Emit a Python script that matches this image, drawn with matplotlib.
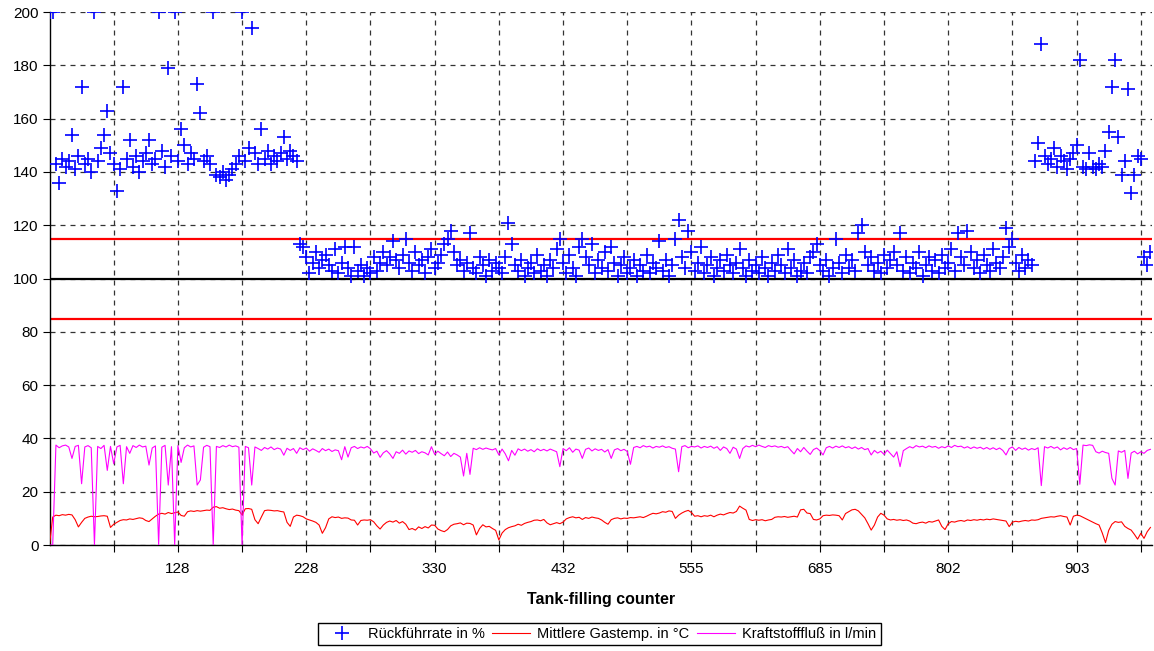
import matplotlib
matplotlib.use("Agg")
import matplotlib.pyplot as plt
import numpy as np

plt.rcParams['font.family'] = ['Liberation Sans', 'DejaVu Sans']

# Rückführrate in % (one value per tank filling)
rueckfuehrrate = [
    200, 200, 143, 136, 145, 142, 144, 154, 141, 146,
    172, 143, 145, 140, 200, 144, 149, 154, 163, 147,
    143, 133, 141, 172, 145, 152, 142, 146, 140, 144,
    147, 152, 143, 145, 200, 148, 142, 179, 146, 200,
    144, 156, 150, 143, 147, 145, 173, 162, 144, 146,
    143, 200, 139, 138, 140, 137, 139, 141, 143, 146,
    200, 144, 149, 194, 147, 143, 156, 145, 148, 143,
    146, 144, 147, 153, 145, 148, 146, 144, 113, 112,
    108, 102, 106, 110, 104, 107, 109, 105, 103, 111,
    102, 106, 112, 104, 101, 112, 103, 105, 101, 104,
    102, 108, 103, 106, 110, 105, 108, 114, 107, 104,
    109, 115, 106, 103, 110, 105, 107, 102, 108, 111,
    104, 106, 109, 113, 115, 118, 110, 105, 107, 103,
    106, 117, 104, 102, 108, 105, 101, 107, 103, 106,
    104, 102, 108, 121, 113, 105, 103, 107, 101, 104,
    106, 102, 109, 103, 105, 101, 107, 104, 111, 115,
    106, 102, 109, 104, 101, 112, 115, 108, 105, 113,
    102, 107, 104, 110, 103, 112, 106, 101, 105, 108,
    102, 104, 107, 101, 105, 103, 109, 102, 106, 104,
    114, 103, 107, 101, 105, 115, 122, 108, 104, 118,
    110, 103, 106, 112, 102, 105, 108, 101, 104, 107,
    103, 109, 105, 102, 106, 111, 104, 101, 107, 103,
    105, 102, 108, 104, 101, 106, 103, 109, 105, 102,
    111, 104, 107, 101, 103, 106, 102, 108, 110, 113,
    105, 103, 107, 101, 104, 115, 106, 102, 109, 104,
    107, 103, 117, 120, 110, 105, 108, 103, 106, 102,
    109, 104, 107, 110, 105, 117, 103, 108, 102, 106,
    104, 110, 101, 105, 108, 103, 107, 102, 109, 104,
    106, 111, 103, 117, 108, 105, 118, 110, 104, 107,
    102, 109, 105, 103, 111, 106, 104, 108, 119, 112,
    115, 106, 103, 109, 104, 107, 105, 144, 151, 188,
    146, 143, 145, 149, 142, 146, 144, 141, 145, 147,
    150, 182, 142, 141, 147, 142, 141, 143, 142, 148,
    155, 172, 182, 153, 139, 144, 171, 132, 139, 146,
    145, 108, 105, 110,
]

# Mittlere Gastemp. in °C
gastemp = [
    0, 10.5, 11.2, 11, 11.4, 11.2, 11.5, 11.3, 9.5, 6.8,
    8.5, 10, 10.5, 10.8, 10.6, 10.7, 10.9, 11, 10.8, 6.6,
    7.8, 8.5, 9.2, 9.5, 9.4, 9.8, 9.6, 9.9, 10.2, 10,
    9.2, 8.8, 9.8, 10.8, 11.6, 11.9, 11.6, 12.2, 11.8, 12.1,
    12.4, 11.1, 10.8, 12.5, 12.8, 12.6, 12.9, 12.7, 12.9, 13.1,
    13, 14.2, 14.4, 13.8, 14, 13.6, 13.3, 13.5, 13.1, 12.9,
    11.3, 13.6, 13.7, 13.4, 9.5, 8, 10.5, 12.9, 13.1, 13,
    12.8, 12.9, 12.6, 12.4, 8.5, 7, 10.5, 11.2, 11, 10.6,
    9.8, 9.4, 9, 8.5, 7.5, 4.4, 6.5, 9.8, 10.6, 10.3,
    10.5, 10, 10.2, 10.1, 9.4, 9.3, 7.5, 9.2, 9.4, 9.3,
    9.5, 8.7, 7.2, 6, 7.5, 8.5, 9, 8.6, 9.2, 8.2,
    8.8, 7.8, 5.8, 6.2, 5.6, 6.8, 6.2, 6.9, 6.4, 7.5,
    7.4, 6, 5.4, 5, 5.8, 7.2, 7.8, 8, 8.3, 7.6,
    8.2, 8.1, 7.5, 3.8, 6.2, 7.6, 6.8, 7, 6.2, 5.5,
    1.9, 4.5, 5.8, 6.5, 6.9, 7.2, 7.8, 7.4, 8.1, 8.5,
    8.8, 9.3, 9.4, 9.1, 9.6, 8.3, 7.6, 8, 8.4, 8,
    8.6, 9.8, 10.3, 10.6, 10.2, 10.4, 9.6, 10.3, 10, 10.5,
    10.2, 10, 9.4, 8.5, 7.8, 9.5, 10, 10.2, 9.8, 10.1,
    10, 10.3, 10.2, 10.4, 10.6, 10.3, 10.8, 11.4, 11.9, 11.7,
    12, 12.5, 12.3, 12.8, 12.6, 10, 11.2, 12, 12.6, 13,
    12.2, 10.8, 11, 10.6, 11, 10.8, 11.2, 10.6, 11.2, 11.6,
    11.3, 11.8, 12.2, 12, 12.6, 14.6, 13.8, 13.1, 9.6, 9.2,
    9.5, 9.3, 9.5, 9.1, 9.4, 9.6, 10.4, 10.6, 10.5, 10.7,
    10.4, 10.6, 10.8, 10.5, 13.2, 13.4, 12, 11.8, 9.6, 9.4,
    9.8, 11, 11.2, 11.1, 11.3, 11.2, 11, 9.4, 11.8, 12.5,
    13.2, 13.4, 12.8, 11.5, 10.2, 8, 5.6, 7.5, 10.5, 11.9,
    11.2, 9.8, 9.4, 9.6, 9.3, 9.5, 9.2, 9.4, 9, 8.2,
    8, 8.4, 8.6, 8.2, 8.8, 8.6, 9, 9.4, 7, 5.8,
    8, 8.8, 8.6, 9, 9.2, 8.9, 9.4, 9.2, 9.5, 9.3,
    9.6, 9.4, 9.7, 9.5, 9.8, 9.6, 9.4, 9.2, 9, 6.9,
    8.6, 8.9, 8.7, 9, 9.2, 9, 9.4, 9.3, 9.5, 10,
    10.2, 10.4, 10.6, 10.5, 10.8, 11, 10.7, 10.5, 7.5, 10.8,
    11.2, 11, 10.4, 9.8, 9.2, 8.6, 8, 7.5, 4.5, 0.9,
    5.5, 7.8, 8.8, 8.5, 8.7, 7, 6.2, 5.6, 4, 2.2,
    4.4, 2.5, 5, 6.6,
]

# Kraftstofffluß in l/min
kraftstofffluss = [
    0, 0, 37.5, 36.5, 37.2, 37.5, 36.8, 32.5, 37, 37.4,
    23, 36.8, 37.3, 36.5, 0, 37, 36.2, 37.4, 28, 37,
    30.5, 36.8, 37.4, 23, 36.9, 34.4, 37.3, 36.6, 37.5, 36.8,
    37.1, 30, 36.4, 37.2, 0, 36.7, 37.4, 22.5, 36.9, 0,
    37.3, 31, 36.5, 37.5, 36.8, 37.2, 22.5, 24.4, 36.7, 37.4,
    36.9, 0, 37, 36.6, 37.3, 36.8, 37.5, 36.9, 37.2, 36.7,
    0, 37, 36.5, 22.5, 36.8, 36.2, 35.5, 36.6, 36, 36.8,
    35.8, 36.4, 36, 33.7, 36.3, 35.5, 36.2, 34.4, 36.5, 35.8,
    36.4, 35.2, 36.1, 35.5, 34.8, 36.2, 35.4, 36, 35.1, 35.7,
    35.4, 32, 36.9, 33, 36.5, 37, 36.2, 36.8, 36.4, 37,
    36.1, 34.5, 35.2, 32.9, 34.6, 35.4, 34.2, 32.5, 35, 34.4,
    35.6, 34.1, 35.3, 34.8, 35.5, 34.3, 35, 34.6, 33.8, 36.9,
    34, 35.2, 34.3, 33.5, 34.9, 33.2, 34.4, 33.8, 33, 25.9,
    34.4, 26.5, 36.3, 35.8, 36.5, 35.9, 36.4, 36, 35.7, 36.2,
    33.8, 36, 34.2, 31.6, 35.5, 33.7, 36.1, 35.4, 36, 35.2,
    35.8, 35, 36.1, 35.4, 35.9, 35.3, 36, 35.5, 35, 29.4,
    36.2, 35.4, 36.5, 34.8, 36, 35.6, 32.5, 35.9, 36.4, 35.3,
    36.1, 35.5, 35.9, 34.9, 35.8, 32.5, 35.7, 36.2, 35.4, 35.9,
    35.1, 30.3, 36.6, 37, 36.5, 37.3, 36.8, 37.1, 36.4, 37,
    36.7, 37.2, 36.6, 36.9, 36.3, 36, 27.5, 36.9, 37.3, 36.5,
    37, 36.8, 37.2, 36.4, 37, 36.6, 37.1, 36.3, 36.9, 35.5,
    36.8, 36.2, 34.4, 36.7, 36, 32.5, 36.2, 37.2, 36.8, 37.4,
    36.9, 37.5, 37, 36.6, 37.3, 36.9, 37.2, 36.7, 37, 36.5,
    36.9, 35.5, 34.2, 36.2, 35, 36.6, 35.2, 34, 35.8, 36.4,
    35.4, 33.8, 36.5, 37, 36.4, 37.1, 36.6, 37.2, 36.5, 36.9,
    36.2, 36.8, 36, 36.6, 35.8, 36.2, 33.8, 35.5, 34.5, 35.2,
    34, 35.6, 34.3, 33, 35, 29.4, 35.4, 36.2, 36.9, 36.4,
    37.3, 36.8, 37.1, 36.5, 37.2, 36.7, 37, 36.3, 36.9, 36.5,
    37.2, 36.6, 37.4, 36.9, 37.1, 36.4, 36.9, 36.2, 36.8, 36.3,
    36.7, 36, 36.6, 35.9, 36.5, 35.8, 36.4, 35.5, 33.8, 36.2,
    36.8, 35.5, 36.6, 35.9, 36.4, 35.6, 36.2, 35.8, 36.5, 22.3,
    36.9, 36.4, 37, 36.3, 36.8, 35.7, 36.5, 35.9, 36.6, 35.8,
    36.2, 22.8, 37.5, 37.3, 37.6, 37.4, 35, 34.5, 35.2, 34.7,
    34.4, 25, 22.5, 35.3, 34.8, 35.5, 25, 34.5, 35.2, 34.2,
    35, 34.4, 35.5, 35.9,
]

tick_labels = ["128", "228", "330", "432", "555", "685", "802", "903"]
soll, grenze_oben, grenze_unten = 100, 115, 85

x = np.arange(len(rueckfuehrrate))

fig = plt.figure(figsize=(11.54, 6.51), dpi=100)
ax = fig.add_axes([0.0429, 0.1628, 0.9554, 0.8187])

ax.axhline(grenze_oben, color='#ff0000', lw=1.6, zorder=2)
ax.axhline(grenze_unten, color='#ff0000', lw=1.6, zorder=2)
ax.axhline(soll, color='black', lw=1.6, zorder=2)

ax.plot(x, rueckfuehrrate, linestyle='none', marker='+', ms=9.5, mew=1.2,
        color='#0000ff', label='Rückführrate in %', zorder=4)
ax.plot(x, gastemp, color='#ff0000', lw=0.8, label='Mittlere Gastemp. in °C', zorder=3)
ax.plot(x, kraftstofffluss, color='#ff00ff', lw=0.8, label='Kraftstofffluß in l/min', zorder=3)

ax.set_xlim(0, 343.5)
ax.set_ylim(0, 200)
ax.set_yticks(np.arange(0, 201, 20))

grid_pos = np.arange(20, 341, 20)
ax.set_xticks(grid_pos)
labels = []
for k in range(len(grid_pos)):
    labels.append(tick_labels[k // 2] if k % 2 == 1 else "")
ax.set_xticklabels(labels)

ax.grid(True, which='major', color='#333333', linestyle=(0, (4, 4)), lw=0.9, zorder=0)
ax.set_axisbelow(True)

for s in ['top', 'right']:
    ax.spines[s].set_visible(False)
for s in ['left', 'bottom']:
    ax.spines[s].set_color('black')
    ax.spines[s].set_linewidth(1.0)

ax.tick_params(axis='both', direction='out', length=5, width=0.8, labelsize=11, colors='black')
ax.tick_params(axis='x', pad=7)
ax.tick_params(axis='y', pad=3)

ax.set_xlabel('Tank-filling counter', fontsize=11.5, fontweight='bold', labelpad=12)

fig.legend(loc='center', bbox_to_anchor=(0.5195, 0.026), ncol=3, fontsize=10.5,
           frameon=True, fancybox=False, edgecolor='black', framealpha=1,
           borderpad=0.3, handlelength=2.6, columnspacing=0.5, handletextpad=0.5)

fig.savefig('out.png', dpi=100)
